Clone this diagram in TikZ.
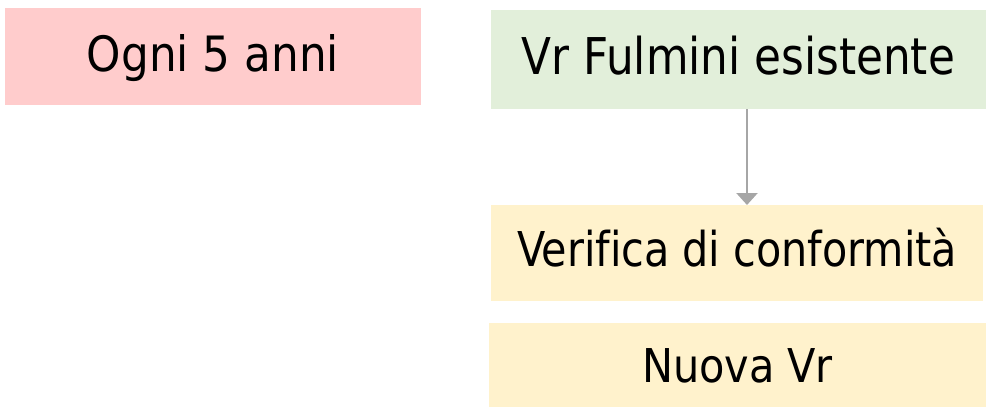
\documentclass[tikz,border=0pt]{standalone}
\usepackage{fontspec}
\setmainfont[Ligatures=NoCommon]{DejaVu Sans Condensed}
\usetikzlibrary{arrows.meta}
\definecolor{boxpink}{HTML}{FFCCCC}
\definecolor{boxgreen}{HTML}{E2EFDA}
\definecolor{boxyellow}{HTML}{FFF2CC}
\definecolor{arrowgray}{HTML}{A6A6A6}
\newcommand{\fitw}[2]{\resizebox{#1}{\height}{#2}}
\begin{document}
\begin{tikzpicture}[x=1pt,y=-1pt,
  box/.style={inner sep=0pt, outer sep=0pt, text=black},
  conn/.style={draw=arrowgray, line width=2.5pt,
    -{Triangle[width=21pt,length=12pt]}}]
\useasboundingbox (0,0) rectangle (987,407);
\node[box, fill=boxpink, minimum width=416pt, minimum height=97pt,
  font=\fontsize{48.7}{56}\selectfont, text height=35.5pt, text depth=6pt]
  (ogni) at (213,56.5) {\fitw{252pt}{Ogni 5 anni}};
\node[box, fill=boxgreen, minimum width=495pt, minimum height=99pt,
  font=\fontsize{50.7}{58}\selectfont, text height=37pt, text depth=7.4pt]
  (vr) at (738.5,59.5) {\fitw{433pt}{Vr Fulmini esistente}};
\node[box, fill=boxyellow, minimum width=492pt, minimum height=96pt,
  font=\fontsize{48}{56}\selectfont, text height=35pt, text depth=7.6pt]
  (verifica) at (737,253) {\fitw{440pt}{Verifica di conformità}};
\node[box, fill=boxyellow, minimum width=497pt, minimum height=84pt,
  font=\fontsize{46.6}{54}\selectfont, text height=34pt, text depth=0pt]
  (nuova) at (737.5,365) {\fitw{191pt}{Nuova Vr}};
\draw[conn] ([xshift=8.5pt]vr.south) -- ([xshift=10pt]verifica.north);
\end{tikzpicture}
\end{document}
